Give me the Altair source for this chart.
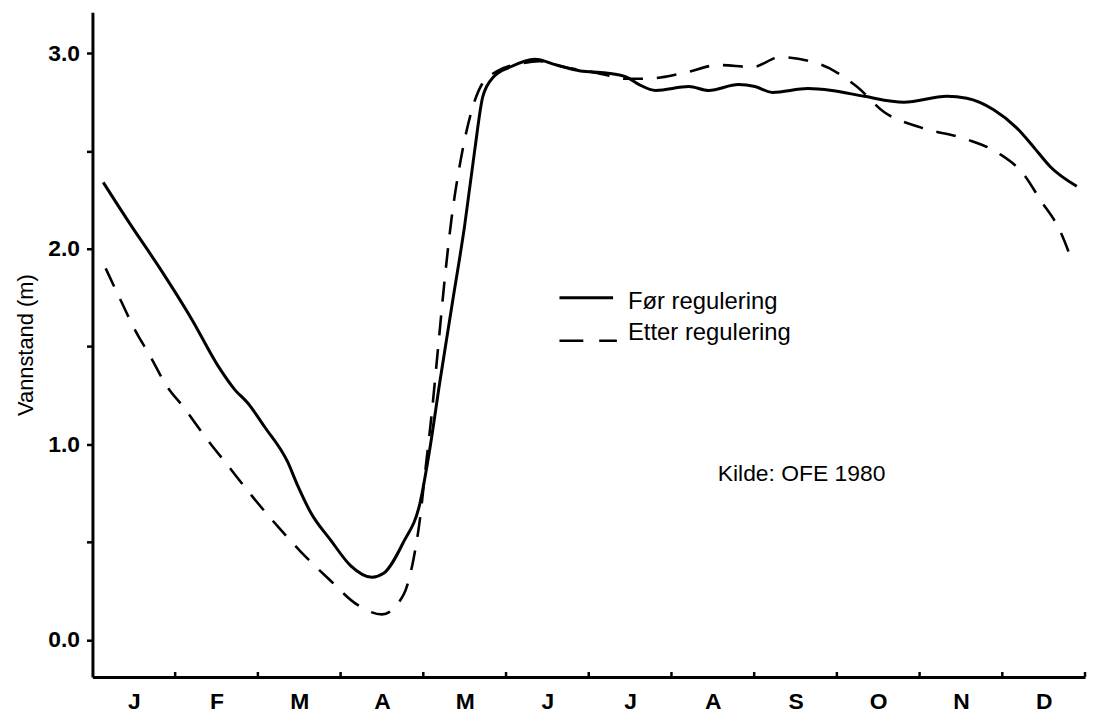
import altair as alt
import pandas as pd

# ---- data ----
month_letters = ["J", "F", "M", "A", "M", "J", "J", "A", "S", "O", "N", "D"]

# Før regulering (solid): month position (0 = 1 Jan, 12 = 31 Dec), level in m
solid_month = [0.13, 0.45, 0.80, 1.20, 1.52, 1.72, 1.88, 2.08, 2.36, 2.48, 2.64, 2.88,
               3.12, 3.38, 3.52, 3.76, 3.96, 4.08, 4.20, 4.35, 4.50, 4.62, 4.72, 4.85,
               5.05, 5.35, 5.61, 5.90, 6.21, 6.45, 6.61, 6.81, 7.21, 7.45, 7.81, 8.01,
               8.22, 8.65, 8.94, 9.33, 9.81, 10.33, 10.57, 10.90, 11.17, 11.38, 11.58, 11.90]
solid_level = [2.34, 2.13, 1.91, 1.64, 1.40, 1.28, 1.21, 1.09, 0.91, 0.79, 0.65, 0.51,
               0.38, 0.32, 0.34, 0.50, 0.70, 0.98, 1.32, 1.72, 2.12, 2.50, 2.78, 2.88,
               2.93, 2.97, 2.94, 2.91, 2.90, 2.88, 2.84, 2.81, 2.83, 2.81, 2.84, 2.83,
               2.80, 2.82, 2.81, 2.78, 2.75, 2.78, 2.77, 2.71, 2.62, 2.52, 2.42, 2.32]

# Etter regulering (dashed)
dashed_month = [0.16, 0.36, 0.52, 0.70, 0.88, 1.12, 1.36, 1.64, 1.92, 2.24, 2.52, 2.86,
                3.20, 3.50, 3.76, 3.88, 3.96, 4.02, 4.10, 4.18, 4.26, 4.34, 4.45, 4.58,
                4.72, 4.90, 5.20, 5.40, 5.70, 6.10, 6.45, 6.69, 7.15, 7.57, 7.98, 8.31,
                8.82, 9.24, 9.57, 10.02, 10.57, 10.95, 11.26, 11.46, 11.70, 11.85]
dashed_level = [1.90, 1.72, 1.58, 1.45, 1.31, 1.18, 1.04, 0.89, 0.74, 0.58, 0.45, 0.31,
                0.18, 0.13, 0.23, 0.41, 0.62, 0.85, 1.15, 1.50, 1.85, 2.15, 2.45, 2.70,
                2.85, 2.91, 2.95, 2.96, 2.93, 2.90, 2.87, 2.87, 2.90, 2.94, 2.93, 2.98,
                2.94, 2.83, 2.70, 2.62, 2.56, 2.49, 2.38, 2.25, 2.09, 1.93]

month_bounds = list(range(1, 13))
y_ticks = [0.0, 0.5, 1.0, 1.5, 2.0, 2.5, 3.0]

legend_labels = ["Før regulering", "Etter regulering"]
source_label = "Kilde: OFE 1980"

# ---- layout / style constants ----
W, H = 999, 669
FONT = "Liberation Sans"
FS = 23

xs = alt.Scale(domain=[0, 12], nice=False, zero=False)
ys = alt.Scale(domain=[-0.19, 3.21], nice=False, zero=False)

x_axis = alt.Axis(
    values=[i + 0.5 for i in range(12)],
    labelExpr="['" + "','".join(month_letters) + "'][floor(datum.value)]",
    tickSize=0, domainColor="black", domainWidth=3, grid=False,
    labelFont=FONT, labelFontSize=23, labelColor="black", labelPadding=14,
    labelAngle=0, labelFontWeight="bold",
)
y_axis = alt.Axis(
    values=y_ticks,
    labelExpr="datum.value % 1 == 0 ? format(datum.value, '.1f') : ''",
    tickSize=6, tickWidth=2.5, tickColor="black",
    domainColor="black", domainWidth=3, grid=False,
    labelFont=FONT, labelFontSize=23, labelColor="black", labelPadding=7,
    labelFontWeight="bold",
    titleFont=FONT, titleFontSize=22, titleFontWeight="normal", titleColor="black",
    titleX=-60, titleY=H / 2, titleBaseline="alphabetic",
)
Y_TITLE = "Vannstand (m)"


def X(field):
    return alt.X(field, type="quantitative", scale=xs, axis=x_axis, title="")


def Y(field):
    return alt.Y(field, type="quantitative", scale=ys, axis=y_axis, title=Y_TITLE)


df_s = pd.DataFrame({"m": solid_month, "v": solid_level})
df_d = pd.DataFrame({"m": dashed_month, "v": dashed_level})
df_b = pd.DataFrame({"m": month_bounds})

solid = alt.Chart(df_s).mark_line(
    color="black", strokeWidth=3, interpolate="monotone"
).encode(x=X("m"), y=Y("v"))

dashed = alt.Chart(df_d).mark_line(
    color="black", strokeWidth=2.6, strokeDash=[20, 14], interpolate="monotone"
).encode(x=X("m"), y=Y("v"))

ticks = alt.Chart(df_b).mark_rule(color="black", strokeWidth=2.5).encode(
    x=X("m"),
    y=alt.value(H),
    y2=alt.value(H - 5),
)

# legend (drawn inside the plot) and source note
df_leg = pd.DataFrame({
    "x0": [5.646, 5.646], "x1": [6.294, 6.34], "yl": [1.75, 1.53],
    "xt": [6.474, 6.474], "yt": [1.73, 1.57], "label": legend_labels,
    "dash": ["solid", "dashed"],
})
leg_solid = alt.Chart(df_leg[df_leg.dash == "solid"]).mark_rule(
    color="black", strokeWidth=3
).encode(x=X("x0"), x2="x1:Q", y=Y("yl"))
leg_dashed = alt.Chart(df_leg[df_leg.dash == "dashed"]).mark_rule(
    color="black", strokeWidth=2.6, strokeDash=[24, 16]
).encode(x=X("x0"), x2="x1:Q", y=Y("yl"))
leg_text = alt.Chart(df_leg).mark_text(
    align="left", baseline="middle", font=FONT, fontSize=24, color="black"
).encode(x=X("xt"), y=Y("yt"), text="label:N")

df_src = pd.DataFrame({"x": [7.56], "y": [0.85], "t": [source_label]})
src_text = alt.Chart(df_src).mark_text(
    align="left", baseline="middle", font=FONT, fontSize=FS, color="black"
).encode(x=X("x"), y=Y("y"), text="t:N")

chart = alt.layer(
    solid, dashed, ticks, leg_solid, leg_dashed, leg_text, src_text
).properties(
    width=W, height=H,
    autosize=alt.AutoSizeParams(type="none"),
    padding={"left": 85, "top": 2, "right": 5, "bottom": 40},
    background="white",
).configure_view(stroke=None)

chart.save("out.html", embed_options={"renderer": "svg", "actions": False})
